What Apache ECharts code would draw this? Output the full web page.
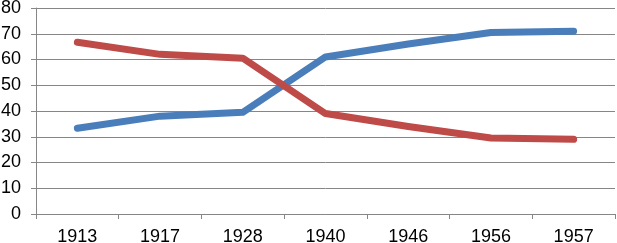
<!DOCTYPE html>
<html><head><meta charset="utf-8">
<script src="https://cdn.jsdelivr.net/npm/echarts@6/dist/echarts.min.js"></script>
<style>html,body{margin:0;padding:0;background:#fff}#c{width:617px;height:243px}</style>
</head><body><div id="c"></div>
<script>
const categories = ['1913','1917','1928','1940','1946','1956','1957'];
const blueValues = [33.3, 38, 39.5, 61, 66, 70.5, 71];
const redValues = [66.7, 62, 60.5, 39, 34, 29.5, 29];
const chart = echarts.init(document.getElementById('c'));
chart.setOption({
  animation:false,
  grid:{left:36,right:2,top:8,bottom:29,containLabel:false,outerBoundsMode:'none'},
  xAxis:{type:'category',data:categories,boundaryGap:true,
    axisLine:{lineStyle:{color:'#868686',width:1}},
    axisTick:{show:true,length:5,lineStyle:{color:'#868686'}},
    axisLabel:{color:'#000',fontFamily:'Liberation Sans, Arial',fontSize:18,margin:14}},
  yAxis:{type:'value',min:0,max:80,interval:10,
    axisLine:{show:true,lineStyle:{color:'#868686'}},
    axisTick:{show:true,length:5,lineStyle:{color:'#868686'}},
    splitLine:{lineStyle:{color:'#868686',width:1}},
    axisLabel:{color:'#000',fontFamily:'Liberation Sans, Arial',fontSize:18,margin:15}},
  series:[
    {type:'line',data:blueValues,symbol:'none',lineStyle:{color:'#4A7EBB',width:7,cap:'round',join:'round'}},
    {type:'line',data:redValues,symbol:'none',lineStyle:{color:'#BE4B48',width:7,cap:'round',join:'round'}}
  ]
});
</script></body></html>
